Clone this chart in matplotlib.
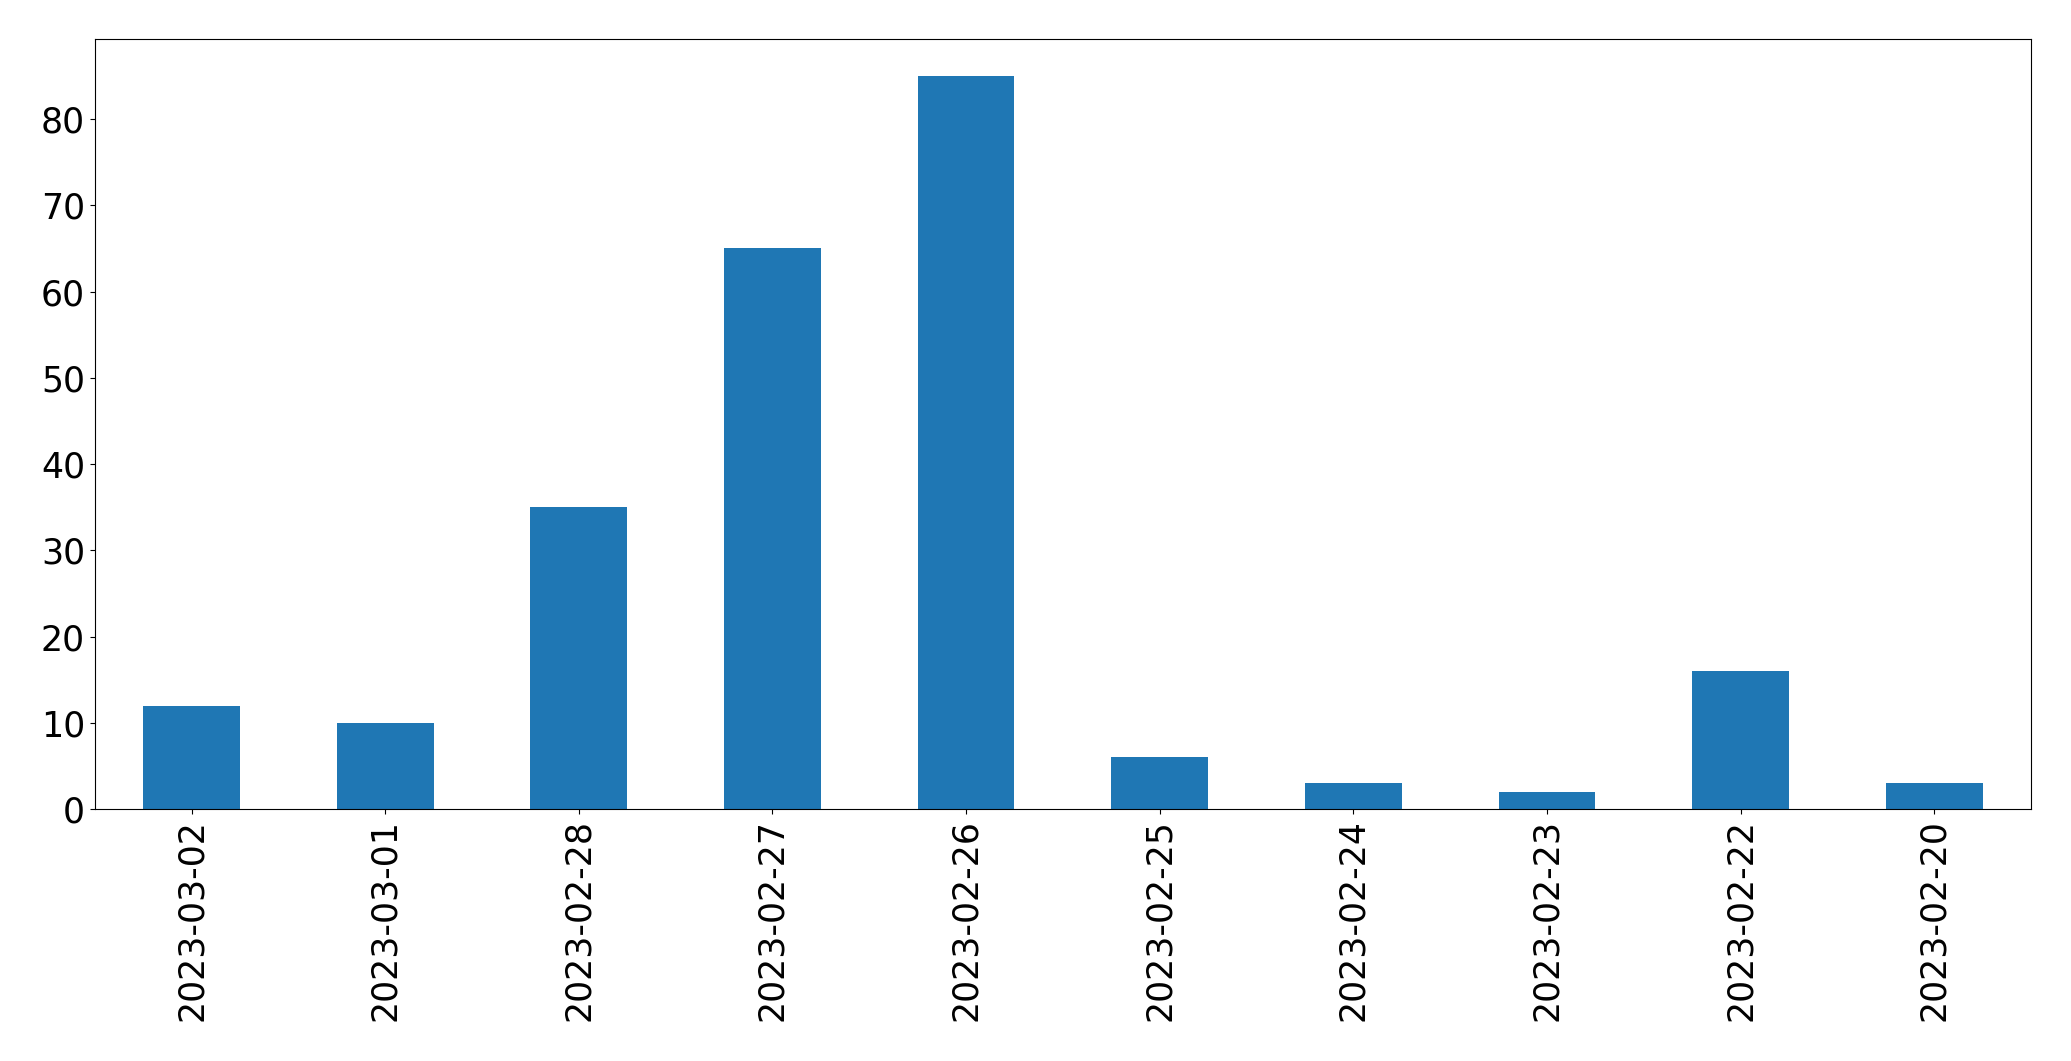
import matplotlib
matplotlib.use("Agg")
import matplotlib.pyplot as plt
import pandas as pd

dates = ["2023-03-02", "2023-03-01", "2023-02-28", "2023-02-27", "2023-02-26",
         "2023-02-25", "2023-02-24", "2023-02-23", "2023-02-22", "2023-02-20"]
counts = [12, 10, 35, 65, 85, 6, 3, 2, 16, 3]

W, H = 2071, 1061
fig = plt.figure(figsize=(W / 100, H / 100), dpi=100)
ax = fig.add_axes([94.7 / W, 1 - 809 / H, (2031 - 94.7) / W, (809 - 39.3) / H])
s = pd.Series(counts, index=dates)
s.plot.bar(ax=ax, color="#1f77b4")
ax.tick_params(labelsize=25)
fig.savefig("out.png", dpi=100)
